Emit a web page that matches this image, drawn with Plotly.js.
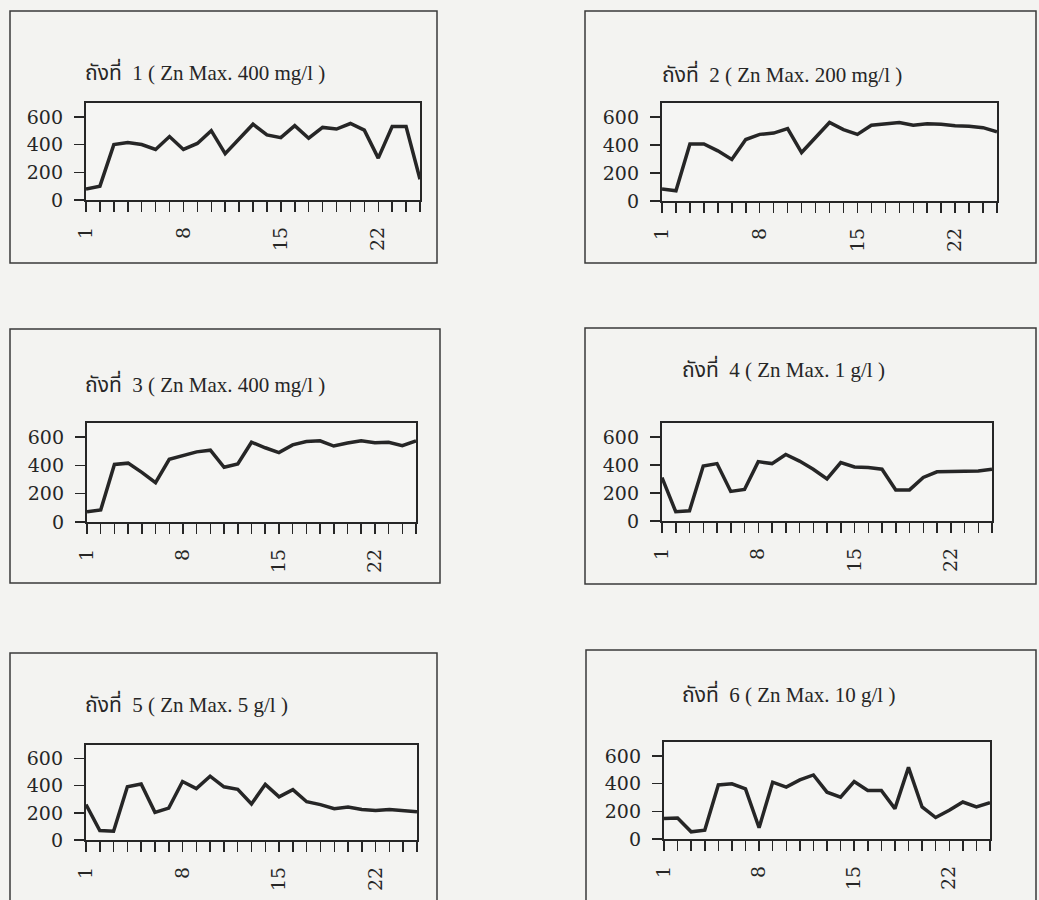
<!DOCTYPE html>
<html>
<head>
<meta charset="utf-8">
<script src="https://cdn.plot.ly/plotly-3.0.1.min.js"></script>
<style>
  html, body { margin: 0; padding: 0; background: #f3f3f1; }
  #chart { width: 1039px; height: 900px; }
</style>
</head>
<body>
<div id="chart"></div>
<script>
// Days of the run (x axis)
const days = [1, 2, 3, 4, 5, 6, 7, 8, 9, 10, 11, 12, 13, 14, 15, 16, 17, 18, 19, 20, 21, 22, 23, 24, 25];

// Measured value per day for each tank
const tank1 = [80, 100, 400, 415, 400, 365, 458, 365, 408, 500, 335, 440, 547, 470, 450, 537, 446, 524, 512, 552, 504, 302, 530, 530, 150];
const tank2 = [85, 73, 407, 407, 358, 297, 439, 476, 485, 517, 346, 456, 561, 510, 476, 541, 554, 561, 541, 551, 549, 537, 534, 524, 495];
const tank3 = [73, 85, 407, 416, 351, 278, 443, 472, 496, 508, 387, 411, 564, 525, 491, 545, 569, 574, 537, 558, 574, 561, 564, 540, 574];
const tank4 = [310, 66, 73, 393, 410, 211, 225, 424, 410, 475, 428, 370, 300, 417, 386, 382, 370, 222, 222, 311, 351, 354, 358, 358, 370];
const tank5 = [261, 70, 65, 392, 412, 204, 235, 431, 379, 470, 392, 373, 266, 410, 318, 371, 282, 261, 230, 243, 225, 217, 225, 214, 209];
const tank6 = [148, 152, 52, 64, 390, 398, 362, 81, 410, 374, 426, 462, 338, 302, 414, 350, 350, 219, 517, 231, 155, 207, 267, 231, 262];

// Panel titles
const titles = [
  'ถังที่  1 ( Zn Max. 400 mg/l )',
  'ถังที่  2 ( Zn Max. 200 mg/l )',
  'ถังที่  3 ( Zn Max. 400 mg/l )',
  'ถังที่  4 ( Zn Max. 1 g/l )',
  'ถังที่  5 ( Zn Max. 5 g/l )',
  'ถังที่  6 ( Zn Max. 10 g/l )'
];

// Axis ticks
const yTicks = [0, 200, 400, 600];
const xLabelTicks = [1, 8, 15, 22];

const series = [tank1, tank2, tank3, tank4, tank5, tank6];

const W = 1039, H = 900;
// Plot rectangles in pixels: [left, right, top, bottom]
const plots = [
  [86, 420, 103, 200],
  [662, 997, 103, 201],
  [87, 416, 423, 522],
  [662, 992, 423, 521],
  [86, 417, 745, 840],
  [664, 990, 742, 839]
];
// Surrounding frames: [left, right, top, bottom]
const frames = [
  [10, 437, 11, 263],
  [585, 1036, 11, 263],
  [10, 440, 329, 583],
  [585, 1036, 328, 584],
  [10, 437, 653, 910],
  [586, 1036, 650, 910]
];
// Title anchor: [left x, vertical middle y]
const titlePos = [
  [83, 71],
  [660, 73],
  [83, 383],
  [680, 369],
  [83, 703],
  [680, 693]
];

const ink = '#262626';
const px = v => v / W;
const py = v => 1 - v / H;

const traces = [];
const layout = {
  width: W,
  height: H,
  margin: { l: 0, r: 0, t: 0, b: 0 },
  paper_bgcolor: '#f3f3f1',
  plot_bgcolor: '#f5f5f3',
  showlegend: false,
  shapes: [],
  annotations: []
};

series.forEach((vals, i) => {
  const n = i === 0 ? '' : String(i + 1);
  traces.push({
    x: days,
    y: vals,
    type: 'scatter',
    mode: 'lines',
    line: { color: ink, width: 3.5 },
    xaxis: 'x' + n,
    yaxis: 'y' + n,
    hoverinfo: 'skip'
  });
  const [l, r, t, b] = plots[i];
  layout['xaxis' + n] = {
    domain: [px(l), px(r)],
    anchor: 'y' + n,
    range: [1, 25],
    tickmode: 'array',
    tickvals: xLabelTicks,
    ticktext: xLabelTicks.map(String),
    tickangle: -90,
    ticks: 'outside',
    ticklen: 10,
    tickwidth: 1.5,
    tickcolor: ink,
    ticklabelstandoff: 7,
    minor: { dtick: 1, tick0: 1, ticks: 'outside', ticklen: 10, tickwidth: 1.5, tickcolor: ink, showgrid: false },
    showgrid: false,
    zeroline: false,
    showline: true,
    mirror: true,
    linewidth: 2.2,
    linecolor: ink,
    tickfont: { family: 'DejaVu Serif, serif', size: 19, color: ink },
    fixedrange: true
  };
  layout['yaxis' + n] = {
    domain: [py(b), py(t)],
    anchor: 'x' + n,
    range: [0, 700],
    tickmode: 'array',
    tickvals: yTicks,
    ticks: 'outside',
    ticklen: 10,
    tickwidth: 1.5,
    tickcolor: ink,
    ticklabelstandoff: 7,
    showgrid: false,
    zeroline: false,
    showline: true,
    mirror: true,
    linewidth: 2.2,
    linecolor: ink,
    tickfont: { family: 'DejaVu Serif, serif', size: 19, color: ink },
    fixedrange: true
  };
  const [fl, fr, ft, fb] = frames[i];
  layout.shapes.push({
    type: 'rect', xref: 'paper', yref: 'paper',
    x0: px(fl), x1: px(fr), y0: py(fb), y1: py(ft),
    line: { color: '#3a3a3a', width: 1.5 },
    layer: 'below'
  });
  layout.annotations.push({
    xref: 'paper', yref: 'paper',
    x: px(titlePos[i][0]), y: py(titlePos[i][1]),
    xanchor: 'left', yanchor: 'middle',
    showarrow: false,
    text: titles[i],
    font: { family: 'Liberation Serif, Noto Sans Thai, serif', size: 21, color: ink }
  });
});

Plotly.newPlot('chart', traces, layout, { staticPlot: true, displayModeBar: false });
</script>
</body>
</html>
